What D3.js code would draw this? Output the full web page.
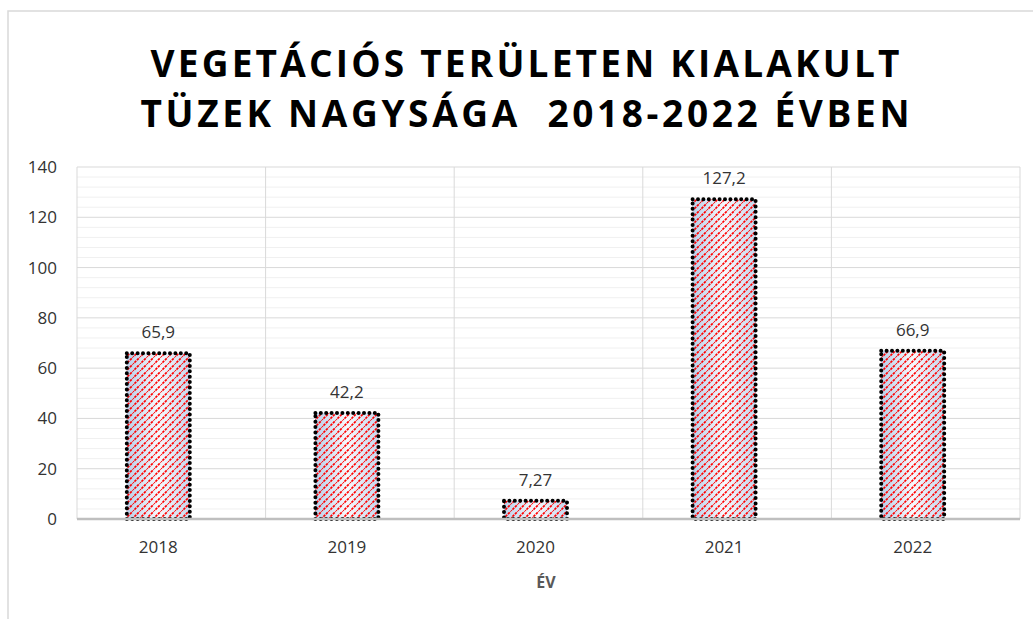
<!DOCTYPE html>
<html>
<head>
<meta charset="utf-8">
<script src="https://cdn.jsdelivr.net/npm/d3@7"></script>
<style>
  body { margin:0; background:#fff; }
  text { font-family:"Open Sans", sans-serif; }
</style>
</head>
<body>
<script>
// data
const years = ["2018","2019","2020","2021","2022"]
const values = [65.9, 42.2, 7.27, 127.2, 66.9]
const labels = ["65,9","42,2","7,27","127,2","66,9"]
const yTicks = [0,20,40,60,80,100,120,140]
const titleLines = ["VEGETÁCIÓS TERÜLETEN KIALAKULT", "TÜZEK NAGYSÁGA  2018-2022 ÉVBEN"]

const W=1033, H=619
const svg=d3.select("body").append("svg")
            .attr("width",W).attr("height",H)

const defs=svg.append("defs")
const grad=defs.append("linearGradient").attr("id","blueg")
               .attr("x1","0").attr("x2","1").attr("y1","0").attr("y2","0")
grad.append("stop").attr("offset","0%").attr("stop-color","#b9d0ea")
grad.append("stop").attr("offset","50%").attr("stop-color","#f6f9fd")
grad.append("stop").attr("offset","100%").attr("stop-color","#c6d8ee")

const pat=defs.append("pattern").attr("id","hatch")
              .attr("patternUnits","userSpaceOnUse")
              .attr("width",7).attr("height",7)
pat.append("path").attr("d","M-1,8 L8,-1 M-2,2 L2,-2 M5,9 L9,5")
   .attr("stroke","#ff0000").attr("stroke-width",1.7)
   .attr("stroke-dasharray","2.5,1")

// chart frame
svg.append("rect").attr("x",8).attr("y",11).attr("width",W).attr("height",H)
   .attr("fill","none").attr("stroke","#d9d9d9").attr("stroke-width",1.5)

// title
titleLines.forEach((t,i)=>{
  svg.append("text")
     .attr("x",525).attr("y",77+i*50)
     .attr("text-anchor","middle")
     .attr("font-size","37px").attr("font-weight",700)
     .attr("fill","#000")
     .style("white-space","pre")
     .attr("textLength", i==0 ? 749 : 769)
     .attr("lengthAdjust","spacing")
     .text(t)
})

const m={left:77, top:167, right:1020, bottom:519}

// categories sit a bit left of the gridline cells, as in the picture
const x=d3.scaleBand().domain(years)
          .range([m.left-13,m.right-13])
          .paddingInner(0.666).paddingOuter(0.333)

// cell edges for the vertical gridlines
const xEdge=d3.scaleLinear().domain([0,years.length]).range([m.left,m.right])

const y=d3.scaleLinear().domain([0,140]).range([m.bottom,m.top])

const g=svg.append("g")

// minor gridlines
g.selectAll("line.minor")
 .data(d3.range(0,141,4).filter(v=>v%20!=0))
 .enter().append("line")
 .attr("x1",m.left).attr("x2",m.right)
 .attr("y1",d=>y(d)).attr("y2",d=>y(d))
 .attr("stroke","#f0f0f0").attr("stroke-width",1)

// major gridlines
g.selectAll("line.major")
 .data(yTicks.slice(1))
 .enter().append("line")
 .attr("x1",m.left).attr("x2",m.right)
 .attr("y1",d=>y(d)).attr("y2",d=>y(d))
 .attr("stroke","#d9d9d9").attr("stroke-width",1)

// vertical gridlines
g.selectAll("line.vert")
 .data(d3.range(years.length+1))
 .enter().append("line")
 .attr("x1",d=>xEdge(d)).attr("x2",d=>xEdge(d))
 .attr("y1",m.top).attr("y2",m.bottom)
 .attr("stroke","#d9d9d9").attr("stroke-width",1)

// y axis
const yAxis=g.append("g")
   .attr("transform",`translate(${m.left},0)`)
   .call(d3.axisLeft(y).tickValues(yTicks).tickSize(0).tickPadding(20))
yAxis.select(".domain").remove()
yAxis.selectAll("text").attr("font-size","17px").attr("fill","#333")
     .attr("font-family","'Open Sans', sans-serif")

// bars
const bars=g.selectAll("g.bar")
 .data(years.map((d,i)=>({year:d,v:values[i],lab:labels[i]})))
 .enter().append("g")

bars.append("rect")
 .attr("x",d=>x(d.year)).attr("y",d=>y(d.v))
 .attr("width",x.bandwidth()).attr("height",d=>y(0)-y(d.v))
 .attr("fill","url(#blueg)")
bars.append("rect")
 .attr("x",d=>x(d.year)).attr("y",d=>y(d.v))
 .attr("width",x.bandwidth()).attr("height",d=>y(0)-y(d.v))
 .attr("fill","url(#hatch)")
bars.append("rect")
 .attr("x",d=>x(d.year)).attr("y",d=>y(d.v))
 .attr("width",x.bandwidth()).attr("height",d=>y(0)-y(d.v))
 .attr("fill","none").attr("stroke","#000").attr("stroke-width",4)
 .attr("stroke-linecap","round").attr("stroke-dasharray","0,5.4")

bars.append("text")
 .attr("x",d=>x(d.year)+x.bandwidth()/2)
 .attr("y",d=>y(d.v)-15)
 .attr("text-anchor","middle")
 .attr("font-size","17px").attr("fill","#333")
 .text(d=>d.lab)

// x axis
const xAxis=g.append("g")
   .attr("transform",`translate(0,${m.bottom})`)
   .call(d3.axisBottom(x).tickSize(0).tickPadding(22))
xAxis.select(".domain").attr("stroke","#bfbfbf").attr("stroke-width",2.5)
   .attr("d",`M${m.left},0H${m.right}`)
xAxis.selectAll("text").attr("font-size","17px").attr("fill","#333")
     .attr("font-family","'Open Sans', sans-serif")

svg.append("text")
   .attr("x",546).attr("y",588)
   .attr("text-anchor","middle")
   .attr("font-size","16px").attr("font-weight",700).attr("fill","#595959")
   .text("ÉV")
</script>
</body>
</html>
